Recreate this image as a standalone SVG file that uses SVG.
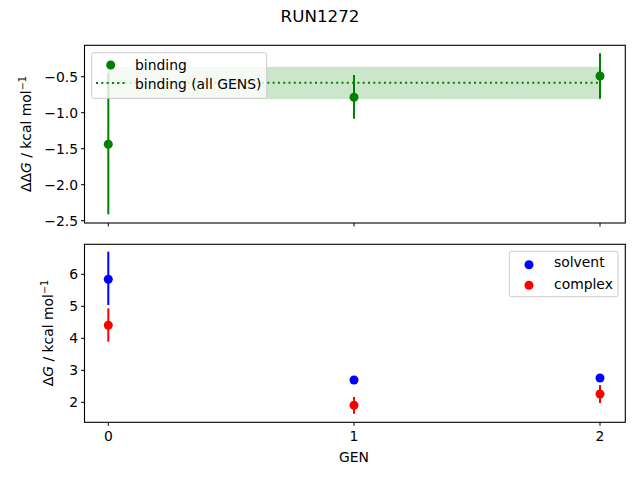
<svg xmlns="http://www.w3.org/2000/svg" width="640" height="480" viewBox="0 0 640 480">
<style>
text{font-family:"DejaVu Sans",sans-serif;font-size:13.9px;fill:#000}
.ax{fill:none;stroke:#000;stroke-width:1.1}
.tk{stroke:#000;stroke-width:1}
.yt{text-anchor:end}
.xt{text-anchor:middle}
.g{stroke:#008000;stroke-width:2}
.b{stroke:#0000ff;stroke-width:2}
.r{stroke:#ff0000;stroke-width:2}
.leg{fill:#fff;fill-opacity:0.8;stroke:#ccc;stroke-width:1}
</style>
<rect width="640" height="480" fill="#fff"/>
<text x="320" y="22" class="xt" style="font-size:16.7px">RUN1272</text>
<g id="top-axes">
<rect x="108.3" y="67.3" width="491.7" height="31.4" fill="#008000" fill-opacity="0.2" stroke="#008000" stroke-opacity="0.1"/>
<line x1="108.3" y1="82.7" x2="600" y2="82.7" stroke="#008000" stroke-width="2" stroke-dasharray="2,3.3"/>
<g id="binding-points">
<line class="g" x1="108.3" y1="72.7" x2="108.3" y2="214.3"/>
<line class="g" x1="354" y1="75" x2="354" y2="118.7"/>
<line class="g" x1="600" y1="53.3" x2="600" y2="98.7"/>
<circle cx="108.3" cy="144.3" r="4.5" fill="#008000"/>
<circle cx="354" cy="97.3" r="4.5" fill="#008000"/>
<circle cx="600" cy="76" r="4.5" fill="#008000"/>
</g>
<rect class="ax" x="84.5" y="45.3" width="540.8" height="177.7"/>
<g class="tk">
<line x1="84.5" y1="76.7" x2="81" y2="76.7"/><line x1="84.5" y1="112.7" x2="81" y2="112.7"/><line x1="84.5" y1="148.7" x2="81" y2="148.7"/><line x1="84.5" y1="184.7" x2="81" y2="184.7"/><line x1="84.5" y1="220.7" x2="81" y2="220.7"/>
<line x1="108.3" y1="223" x2="108.3" y2="226.5"/><line x1="354" y1="223" x2="354" y2="226.5"/><line x1="600" y1="223" x2="600" y2="226.5"/>
</g>
<text class="yt" x="78" y="81.7">−0.5</text>
<text class="yt" x="78" y="117.7">−1.0</text>
<text class="yt" x="78" y="153.7">−1.5</text>
<text class="yt" x="78" y="189.7">−2.0</text>
<text class="yt" x="78" y="225.7">−2.5</text>
<text class="xt" transform="translate(31,134) rotate(-90)">ΔΔ<tspan font-style="italic">G</tspan> / kcal mol<tspan dy="-5" font-size="9.7">−1</tspan></text>
<g id="legend-top">
<rect class="leg" x="91.7" y="52.7" width="175" height="45.6" rx="2"/>
<circle cx="110.7" cy="65" r="4.5" fill="#008000"/>
<text x="135" y="69.5">binding</text>
<line x1="96" y1="83" x2="125" y2="83" stroke="#008000" stroke-width="2" stroke-dasharray="2,3.3"/>
<text x="135" y="89">binding (all GENS)</text>
</g>
</g>
<g id="bottom-axes">
<g id="solvent-points">
<line class="b" x1="108.3" y1="251.7" x2="108.3" y2="305"/>
<circle cx="108.3" cy="279.3" r="4.5" fill="#0000ff"/>
<line class="b" x1="354" y1="377" x2="354" y2="383"/>
<circle cx="354" cy="380" r="4.5" fill="#0000ff"/>
<line class="b" x1="600" y1="375.5" x2="600" y2="380.5"/>
<circle cx="600" cy="378" r="4.5" fill="#0000ff"/>
</g>
<g id="complex-points">
<line class="r" x1="108.3" y1="308.3" x2="108.3" y2="341.7"/>
<circle cx="108.3" cy="325.3" r="4.5" fill="#ff0000"/>
<line class="r" x1="354" y1="397" x2="354" y2="413.7"/>
<circle cx="354" cy="405.3" r="4.5" fill="#ff0000"/>
<line class="r" x1="600" y1="385" x2="600" y2="403"/>
<circle cx="600" cy="394" r="4.5" fill="#ff0000"/>
</g>
<rect class="ax" x="84.5" y="244.3" width="540.8" height="178"/>
<g class="tk">
<line x1="84.5" y1="274.3" x2="81" y2="274.3"/><line x1="84.5" y1="306.3" x2="81" y2="306.3"/><line x1="84.5" y1="338.3" x2="81" y2="338.3"/><line x1="84.5" y1="370.3" x2="81" y2="370.3"/><line x1="84.5" y1="402.3" x2="81" y2="402.3"/>
<line x1="108.3" y1="422.3" x2="108.3" y2="425.8"/><line x1="354" y1="422.3" x2="354" y2="425.8"/><line x1="600" y1="422.3" x2="600" y2="425.8"/>
</g>
<text class="yt" x="78" y="279.3">6</text>
<text class="yt" x="78" y="311.3">5</text>
<text class="yt" x="78" y="343.3">4</text>
<text class="yt" x="78" y="375.3">3</text>
<text class="yt" x="78" y="407.3">2</text>
<text class="xt" x="108.3" y="441">0</text>
<text class="xt" x="354" y="441">1</text>
<text class="xt" x="600" y="441">2</text>
<text class="xt" x="354" y="462">GEN</text>
<text class="xt" transform="translate(53,333) rotate(-90)">Δ<tspan font-style="italic">G</tspan> / kcal mol<tspan dy="-5" font-size="9.7">−1</tspan></text>
<g id="legend-bottom">
<rect class="leg" x="509.3" y="251.3" width="108.7" height="45.4" rx="2"/>
<circle cx="529" cy="264.7" r="4.5" fill="#0000ff"/>
<text x="554" y="267">solvent</text>
<circle cx="529" cy="285.3" r="4.5" fill="#ff0000"/>
<text x="554" y="288.5">complex</text>
</g>
</g>
</svg>
